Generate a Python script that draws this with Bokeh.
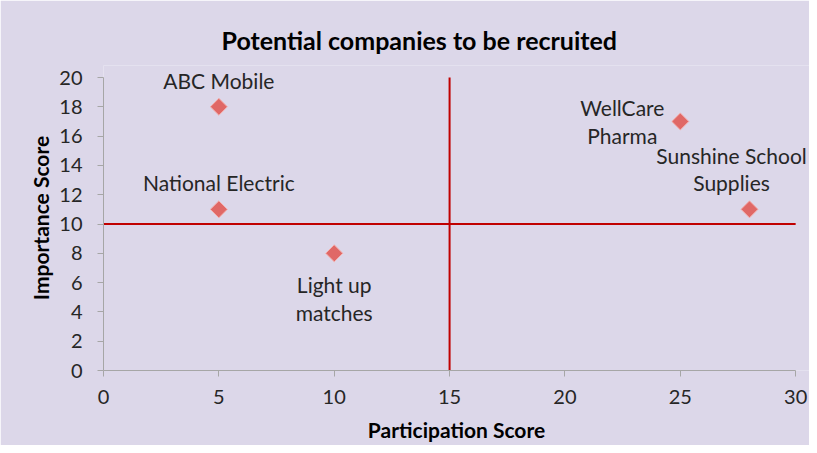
import math
from bokeh.plotting import figure
from bokeh.models import Label, Range1d, FixedTicker, Title
from bokeh.embed import file_html
from bokeh.resources import INLINE

# ---- data ----
companies = ["ABC Mobile", "National Electric", "Light up\nmatches", "WellCare\nPharma", "Sunshine School\nSupplies"]
participation = [5, 5, 10, 25, 28]
importance = [18, 11, 8, 17, 11]
x_ticks = [0, 5, 10, 15, 20, 25, 30]
y_ticks = [0, 2, 4, 6, 8, 10, 12, 14, 16, 18, 20]
x_min, x_max = 0, 30
y_min, y_max = 0, 20
threshold_x = 15
threshold_y = 10

# ---- label placement (style, pixels) ----
placement = {
    "ABC Mobile": dict(dx=0, dy=14, align="center", base="bottom"),
    "National Electric": dict(dx=0, dy=14, align="center", base="bottom"),
    "Light up\nmatches": dict(dx=0, dy=-19, align="center", base="top"),
    "WellCare\nPharma": dict(dx=-58, dy=0, align="center", base="middle"),
    "Sunshine School\nSupplies": dict(dx=-18, dy=14, align="center", base="bottom"),
}

FONT = "Lato"
BG = "#dcd7e9"
TXT = "#262626"

# frame is a bit larger than the axes so that labels near the edge are not clipped
p = figure(
    frame_width=706, frame_height=305,
    min_border_left=103, min_border_right=0, min_border_top=65, min_border_bottom=75,
    x_range=Range1d(x_min, 30.6), y_range=Range1d(y_min, 20.82),
    output_backend="svg", toolbar_location=None,
    background_fill_color=BG, border_fill_color=BG,
)
p.outline_line_color = None
p.grid.visible = False

p.title = Title(text="Potential companies to be recruited", align="left",
                text_font=FONT, text_font_size="25px", text_font_style="bold",
                text_color="#000000", offset=118, standoff=22)

for ax in (p.xaxis[0], p.yaxis[0]):
    ax.axis_line_color = "#a6a6a6"
    ax.major_tick_line_color = "#a6a6a6"
    ax.minor_tick_line_color = None
    ax.major_tick_out = 6
    ax.major_tick_in = 0
    ax.major_label_text_font = FONT
    ax.major_label_text_font_size = "20px"
    ax.major_label_text_color = TXT
    ax.axis_label_text_font = FONT
    ax.axis_label_text_font_size = "21px"
    ax.axis_label_text_font_style = "bold"
    ax.axis_label_text_color = "#000000"

p.xaxis.bounds = (x_min, x_max)
p.yaxis.bounds = (y_min, y_max)
p.xaxis.ticker = FixedTicker(ticks=x_ticks)
p.yaxis.ticker = FixedTicker(ticks=y_ticks)
p.xaxis.axis_label = "Participation Score"
p.yaxis.axis_label = "Importance Score"
p.xaxis.major_label_standoff = 13
p.yaxis.major_label_standoff = 15
p.xaxis.axis_label_standoff = 10
p.yaxis.axis_label_standoff = 3

# quadrant lines
p.segment(x0=[x_min], y0=[threshold_y], x1=[x_max], y1=[threshold_y], line_color="#c00000", line_width=2)
p.segment(x0=[threshold_x], y0=[y_min], x1=[threshold_x], y1=[y_max], line_color="#c00000", line_width=2)

# markers
p.scatter(participation, importance, marker="square", angle=math.pi / 4, size=12,
          fill_color="#e06866", line_color="#f3b0ae", line_width=1)

for name, xv, yv in zip(companies, participation, importance):
    pl = placement[name]
    p.add_layout(Label(x=xv, y=yv, x_offset=pl["dx"], y_offset=pl["dy"], text=name,
                       text_font=FONT, text_font_size="21px", text_color=TXT,
                       text_align=pl["align"], text_baseline=pl["base"],
                       text_line_height=1.1))

open("out.html", "w").write(file_html(p, INLINE))
